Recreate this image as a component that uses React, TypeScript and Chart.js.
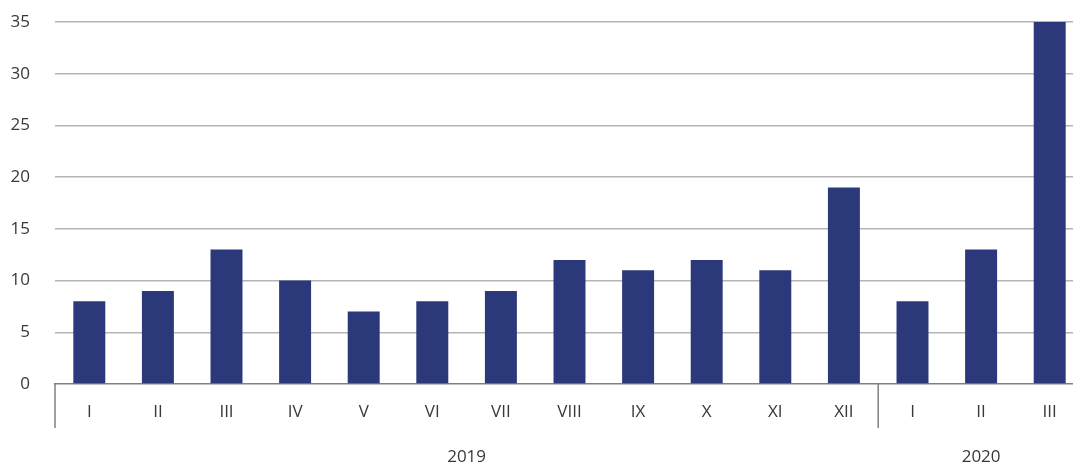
import React, { useEffect, useRef } from "react";
import { Chart, registerables } from "chart.js";

Chart.register(...registerables);

const months = ["I", "II", "III", "IV", "V", "VI", "VII", "VIII", "IX", "X", "XI", "XII", "I", "II", "III"];
const values = [8, 9, 13, 10, 7, 8, 9, 12, 11, 12, 11, 19, 8, 13, 35];
const years = ["2019", "2020"];
const yearCounts = [12, 3];
const yTicks = [0, 5, 10, 15, 20, 25, 30, 35];

const FONT = "'Open Sans', 'Noto Sans', sans-serif";

export default function App() {
  const ref = useRef<HTMLCanvasElement | null>(null);

  useEffect(() => {
    if (!ref.current) return;
    const lowerAxis = {
      id: "lowerAxis",
      afterDraw(chart: any) {
        const ctx = chart.ctx;
        const x = chart.scales.x;
        const area = chart.chartArea;
        const step = x.getPixelForValue(1) - x.getPixelForValue(0);
        ctx.save();
        ctx.fillStyle = "#383838";
        ctx.font = `17px ${FONT}`;
        ctx.textAlign = "center";
        ctx.textBaseline = "middle";
        months.forEach((m, i) => {
          ctx.fillText(m, x.getPixelForValue(i), area.bottom + 28);
        });
        ctx.strokeStyle = "#808080";
        ctx.lineWidth = 1.5;
        let start = 0;
        years.forEach((yr, gi) => {
          const left = x.getPixelForValue(start) - step / 2;
          const right = x.getPixelForValue(start + yearCounts[gi] - 1) + step / 2;
          ctx.beginPath();
          ctx.moveTo(left, area.bottom);
          ctx.lineTo(left, area.bottom + 44);
          ctx.stroke();
          ctx.fillText(yr, (left + right) / 2, area.bottom + 73);
          start += yearCounts[gi];
        });
        ctx.restore();
      },
    };

    const chart = new Chart(ref.current, {
      type: "bar",
      data: {
        labels: months.map((m, i) => `${m}-${i}`),
        datasets: [
          {
            data: values,
            backgroundColor: "#2b387a",
            borderWidth: 0,
            barPercentage: 0.466,
            categoryPercentage: 1,
          },
        ],
      },
      options: {
        responsive: false,
        animation: false,
        layout: { padding: { top: 22, right: 0, left: 0, bottom: 0 } },
        plugins: { legend: { display: false }, tooltip: { enabled: false } },
        scales: {
          x: {
            grid: { display: false },
            border: { display: true, color: "#808080", width: 1.5 },
            ticks: { display: false },
            afterFit(scale: any) {
              scale.height = 80;
            },
          },
          y: {
            min: 0,
            max: 35,
            afterBuildTicks(scale: any) {
              scale.ticks = yTicks.map((v) => ({ value: v }));
            },
            grid: {
              drawTicks: true,
              tickLength: 22,
              tickColor: "rgba(0,0,0,0)",
              color: (c: any) => (c.tick && c.tick.value === 0 ? "rgba(0,0,0,0)" : "#b5b5b5"),
              lineWidth: 1.5,
            },
            border: { display: false },
            ticks: {
              padding: 3,
              color: "#383838",
              font: { family: FONT, size: 17 },
            },
            afterFit(scale: any) {
              scale.width = 55;
            },
          },
        },
      },
      plugins: [lowerAxis],
    });
    return () => chart.destroy();
  }, []);

  return (
    <div style={{ position: "fixed", left: 0, top: 0, width: 1073, height: 464, overflow: "hidden", background: "#fff" }}>
      <canvas ref={ref} width={1084} height={464} style={{ width: 1084, height: 464, display: "block" }} />
    </div>
  );
}
